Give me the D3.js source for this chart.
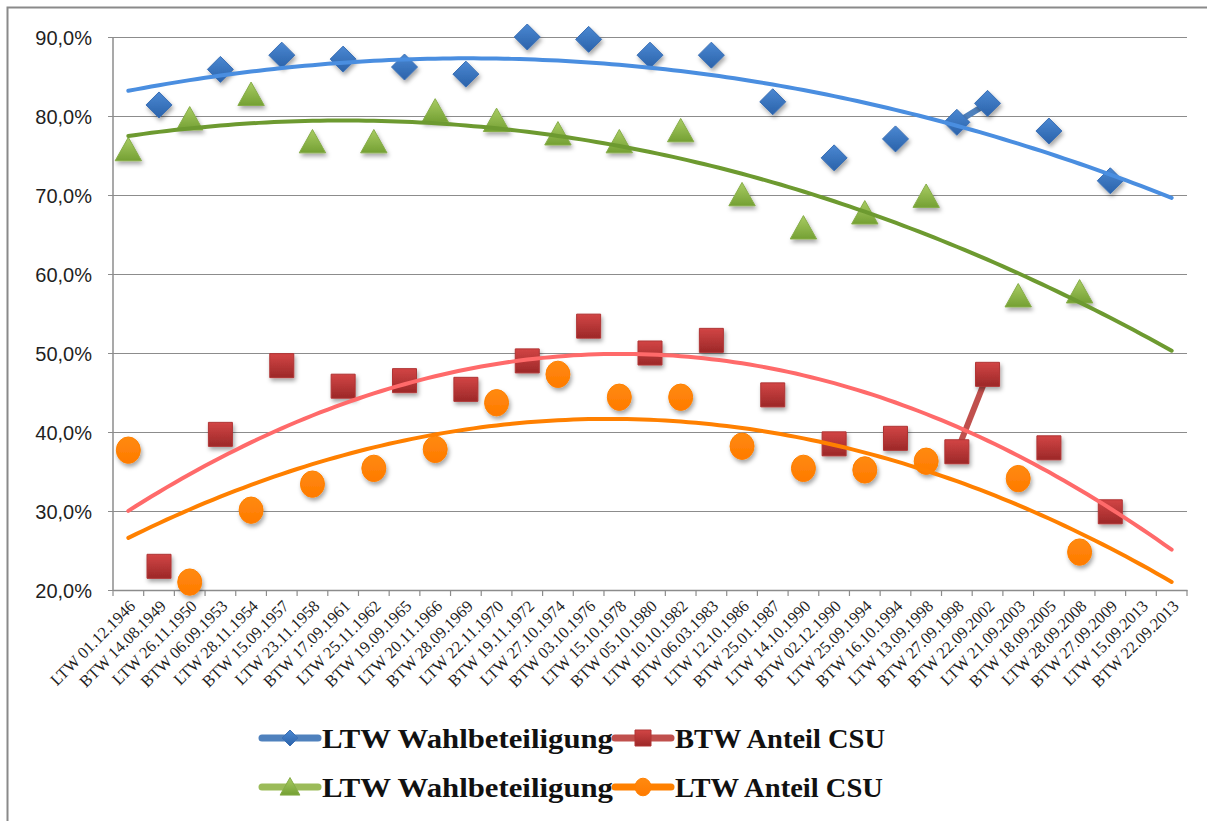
<!DOCTYPE html>
<html>
<head>
<meta charset="utf-8">
<script src="https://cdn.jsdelivr.net/npm/d3@7"></script>
<style>
  body { margin: 0; background: #fff; }
  svg { display: block; }
</style>
</head>
<body>
<div id="chart"></div>
<script>
// election dates on the category axis
let categories = [
  "LTW 01.12.1946", "BTW 14.08.1949", "LTW 26.11.1950", "BTW 06.09.1953", "LTW 28.11.1954",
  "BTW 15.09.1957", "LTW 23.11.1958", "BTW 17.09.1961", "LTW 25.11.1962", "BTW 19.09.1965",
  "LTW 20.11.1966", "BTW 28.09.1969", "LTW 22.11.1970", "BTW 19.11.1972", "LTW 27.10.1974",
  "BTW 03.10.1976", "LTW 15.10.1978", "BTW 05.10.1980", "LTW 10.10.1982", "BTW 06.03.1983",
  "LTW 12.10.1986", "BTW 25.01.1987", "LTW 14.10.1990", "BTW 02.12.1990", "LTW 25.09.1994",
  "BTW 16.10.1994", "LTW 13.09.1998", "BTW 27.09.1998", "BTW 22.09.2002", "LTW 21.09.2003",
  "BTW 18.09.2005", "LTW 28.09.2008", "BTW 27.09.2009", "LTW 15.09.2013", "BTW 22.09.2013"
];

// values in percent, null where the series has no point
let blueTurnout = [null, 81.4, null, 85.9, null, 87.7, null, 87.2, null, 86.2, null, 85.3, null, 90.0, null,
  89.7, null, 87.7, null, 87.7, null, 81.8, null, 74.7, null, 77.1, null, 79.2, 81.6, null, 78.1, null, 71.8, null, null];
let redCsuBtw = [null, 23.0, null, 39.7, null, 48.4, null, 45.8, null, 46.5, null, 45.4, null, 49.0, null,
  53.4, null, 50.0, null, 51.6, null, 44.7, null, 38.5, null, 39.2, null, 37.5, 47.3, null, 38.0, null, 29.9, null, null];
let greenTurnout = [75.7, null, 79.6, null, 82.7, null, 76.7, null, 76.7, null, 80.6, null, 79.4, null, 77.7,
  null, 76.7, null, 78.1, null, 70.0, null, 65.8, null, 67.7, null, 69.8, null, null, 57.2, null, 57.7, null, null, null];
let orangeCsuLtw = [37.7, null, 21.0, null, 30.1, null, 33.4, null, 35.4, null, 37.8, null, 43.7, null, 47.3,
  null, 44.4, null, 44.4, null, 38.2, null, 35.4, null, 35.2, null, 36.3, null, null, 34.1, null, 24.8, null, null, null];

let seriesNames = ["LTW Wahlbeteiligung", "BTW Anteil CSU", "LTW Wahlbeteiligung", "LTW Anteil CSU"];
let yTicks = [20, 30, 40, 50, 60, 70, 80, 90];

let width = 1207, height = 821;
let plot = {left: 113, right: 1187, top: 37, bottom: 590};

let svg = d3.select("#chart").append("svg")
    .attr("width", width)
    .attr("height", height);

let defs = svg.append("defs");

let shadow = defs.append("filter").attr("id", "shadow")
    .attr("x", "-50%").attr("y", "-50%").attr("width", "200%").attr("height", "200%");
shadow.append("feDropShadow")
    .attr("dx", 1.5).attr("dy", 3).attr("stdDeviation", 2)
    .attr("flood-color", "#000").attr("flood-opacity", 0.35);

function addGradient(id, top, bottom) {
  let g = defs.append("linearGradient").attr("id", id)
      .attr("x1", 0).attr("y1", 0).attr("x2", 0).attr("y2", 1);
  g.append("stop").attr("offset", "0%").attr("stop-color", top);
  g.append("stop").attr("offset", "100%").attr("stop-color", bottom);
}
addGradient("gBlue", "#4b88d2", "#2a62aa");
addGradient("gRed", "#d24545", "#9c2828");
addGradient("gGreen", "#a9cc63", "#74a033");
addGradient("gOrange", "#ff8a10", "#ff7a00");

// outer frame
svg.append("rect")
    .attr("x", 7.5).attr("y", 7.5)
    .attr("width", 1220).attr("height", 830)
    .attr("fill", "none")
    .attr("stroke", "#8a8a8a")
    .attr("stroke-width", 2);

let xScale = d3.scaleBand()
    .domain(categories)
    .range([plot.left, plot.right])
    .padding(0);
let xc = c => xScale(c) + xScale.bandwidth() / 2;
let xIdx = d3.scaleLinear()
    .domain([0, categories.length - 1])
    .range([xc(categories[0]), xc(categories[categories.length - 1])]);

let yScale = d3.scaleLinear()
    .domain([20, 90])
    .range([plot.bottom, plot.top]);

let locale = d3.formatLocale({decimal: ",", thousands: ".", grouping: [3], currency: ["", "€"]});
let fmt = v => locale.format(".1f")(v) + "%";

// gridlines + y axis
let yAxis = d3.axisLeft(yScale)
    .tickValues(yTicks)
    .tickSize(-(plot.right - plot.left))
    .tickSizeOuter(0)
    .tickFormat(fmt);
let yG = svg.append("g")
    .attr("transform", "translate(" + plot.left + ",0)")
    .call(yAxis);
yG.select(".domain").remove();
yG.selectAll(".tick line")
    .attr("x1", -5)
    .attr("stroke", "#8c8c8c")
    .attr("stroke-width", 1.2);
yG.selectAll(".tick text")
    .attr("x", -21)
    .attr("dy", "0.35em")
    .attr("fill", "#1f1f1f")
    .style("font-family", "'Liberation Sans', Arial, sans-serif")
    .style("font-size", "20px");
svg.append("line")
    .attr("x1", plot.left).attr("x2", plot.left)
    .attr("y1", plot.top).attr("y2", plot.bottom)
    .attr("stroke", "#8c8c8c").attr("stroke-width", 1.5);

// x axis
let xAxis = d3.axisBottom(xScale).tickSize(0).tickSizeOuter(0);
let xG = svg.append("g")
    .attr("transform", "translate(0," + plot.bottom + ")")
    .call(xAxis);
xG.select(".domain")
    .attr("stroke", "#8c8c8c").attr("stroke-width", 1.5);
xG.selectAll(".tick text")
    .attr("text-anchor", "end")
    .attr("x", 0).attr("y", 0)
    .attr("dy", "0.35em")
    .attr("transform", "translate(4,13) rotate(-45)")
    .attr("fill", "#1f1f1f")
    .style("font-family", "'Liberation Serif', Cambria, serif")
    .style("font-size", "16.5px");
let boundaries = categories.map(c => xScale(c)).concat([plot.right]);
svg.append("g").selectAll("line")
    .data(boundaries)
    .enter().append("line")
    .attr("x1", d => d).attr("x2", d => d)
    .attr("y1", plot.bottom).attr("y2", plot.bottom + 6)
    .attr("stroke", "#8c8c8c").attr("stroke-width", 1.2);

// marker shapes
function markerPath(type, s) {
  if (type === "diamond") return "M0," + (-s) + "L" + s + ",0L0," + s + "L" + (-s) + ",0Z";
  if (type === "square") return "M" + (-s) + "," + (-s) + "H" + s + "V" + s + "H" + (-s) + "Z";
  if (type === "triangle") return "M0," + (-s * 1.05) + "L" + (s * 1.1) + "," + (s * 0.9) + "L" + (-s * 1.1) + "," + (s * 0.9) + "Z";
  // circle, a little taller than wide
  return "M" + (-s) + ",0A" + s + "," + (s * 1.1) + " 0 1,0 " + s + ",0A" + s + "," + (s * 1.1) + " 0 1,0 " + (-s) + ",0Z";
}

let series = [
  {name: seriesNames[0], values: blueTurnout, line: "#4f81bd", trend: "#4a8ee0", fill: "url(#gBlue)", stroke: "#3a6fb5", shape: "diamond", size: 13},
  {name: seriesNames[1], values: redCsuBtw, line: "#c0504d", trend: "#ff6a6a", fill: "url(#gRed)", stroke: "#b03434", shape: "square", size: 12},
  {name: seriesNames[2], values: greenTurnout, line: "#9bbb59", trend: "#6d9a30", fill: "url(#gGreen)", stroke: "#86ad48", shape: "triangle", size: 12},
  {name: seriesNames[3], values: orangeCsuLtw, line: "#ff8000", trend: "#ff8000", fill: "url(#gOrange)", stroke: "#ff8000", shape: "circle", size: 12}
];

let line = d3.line()
    .defined(d => d.v != null)
    .x(d => xIdx(d.i))
    .y(d => yScale(d.v));

series.forEach(s => {
  let pts = s.values.map((v, i) => ({i: i, v: v}));
  svg.append("path")
      .datum(pts)
      .attr("fill", "none")
      .attr("stroke", s.line)
      .attr("stroke-width", 6)
      .attr("d", line);
  svg.append("g").selectAll("path")
      .data(pts.filter(d => d.v != null))
      .enter().append("path")
      .attr("transform", d => "translate(" + xIdx(d.i) + "," + yScale(d.v) + ")")
      .attr("d", markerPath(s.shape, s.size))
      .attr("fill", s.fill)
      .attr("stroke", s.stroke)
      .attr("stroke-width", 1)
      .attr("filter", "url(#shadow)");
});

// polynomial (order 2) trend lines, least squares over the shown points
function quadFit(values) {
  let pts = values.map((v, i) => [i + 1, v]).filter(p => p[1] != null);
  let S = [0, 0, 0, 0, 0], T = [0, 0, 0];
  pts.forEach(p => {
    let x = p[0], y = p[1];
    for (let k = 0; k < 5; k++) S[k] += Math.pow(x, k);
    for (let k = 0; k < 3; k++) T[k] += y * Math.pow(x, k);
  });
  let A = [[S[0], S[1], S[2], T[0]], [S[1], S[2], S[3], T[1]], [S[2], S[3], S[4], T[2]]];
  for (let c = 0; c < 3; c++) {
    for (let r = c + 1; r < 3; r++) {
      let f = A[r][c] / A[c][c];
      for (let k = c; k < 4; k++) A[r][k] -= f * A[c][k];
    }
  }
  let b = [0, 0, 0];
  for (let r = 2; r >= 0; r--) {
    let sum = A[r][3];
    for (let k = r + 1; k < 3; k++) sum -= A[r][k] * b[k];
    b[r] = sum / A[r][r];
  }
  return x => b[0] + b[1] * x + b[2] * x * x;
}

let trendLine = d3.line()
    .x(d => xIdx(d[0]))
    .y(d => yScale(d[1]))
    .curve(d3.curveLinear);

series.forEach(s => {
  let f = quadFit(s.values);
  let steps = d3.range(0, categories.length - 1 + 0.001, 0.25);
  svg.append("path")
      .datum(steps.map(t => [t, f(t + 1)]))
      .attr("fill", "none")
      .attr("stroke", s.trend)
      .attr("stroke-width", 4)
      .attr("stroke-linecap", "round")
      .attr("d", trendLine);
});

// legend
let legendItems = [
  {s: series[0], x: 262, y: 738, w: 291},
  {s: series[1], x: 615, y: 738, w: 210},
  {s: series[2], x: 262, y: 787, w: 291},
  {s: series[3], x: 615, y: 787, w: 208}
];
let legend = svg.append("g");
legendItems.forEach(it => {
  let g = legend.append("g").attr("transform", "translate(" + it.x + "," + it.y + ")");
  g.append("line")
      .attr("x1", 0).attr("x2", 56)
      .attr("stroke", it.s.line)
      .attr("stroke-width", 7)
      .attr("stroke-linecap", "round");
  g.append("path")
      .attr("transform", "translate(28,0)")
      .attr("d", markerPath(it.s.shape, it.s.shape === "triangle" ? 9 : 8))
      .attr("fill", it.s.fill)
      .attr("stroke", it.s.stroke);
  g.append("text")
      .attr("x", 60)
      .attr("y", 10)
      .attr("textLength", it.w)
      .attr("lengthAdjust", "spacingAndGlyphs")
      .attr("fill", "#111")
      .style("font-family", "'Liberation Serif', Cambria, serif")
      .style("font-weight", "bold")
      .style("font-size", "27px")
      .text(it.s.name);
});
</script>
</body>
</html>
